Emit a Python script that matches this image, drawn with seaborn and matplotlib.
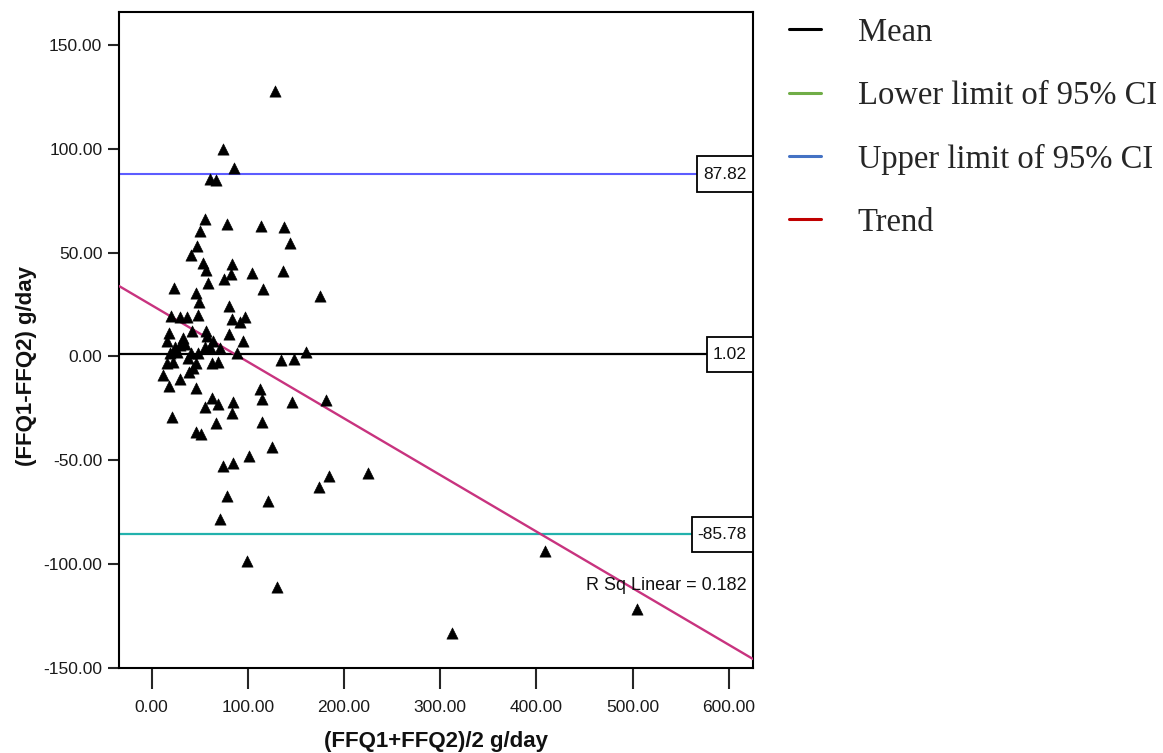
import matplotlib
matplotlib.use("Agg")
import numpy as np
import pandas as pd
import seaborn as sns
import matplotlib.pyplot as plt
from matplotlib.lines import Line2D
from matplotlib.path import Path

# ---------------- data ----------------
avg_intake = [
    128.6, 74.3, 85.4, 61.1, 66.7, 55.9, 78.8, 113.8, 137.7, 50.4,
    143.9, 47.0, 41.0, 53.2, 83.3, 56.6, 104.7, 136.6, 82.9, 75.0,
    58.4, 23.4, 115.8, 174.8, 46.5, 49.7, 80.2, 19.9, 29.9, 36.9,
    48.0, 83.6, 96.8, 92.3, 17.9, 42.4, 56.3, 80.5, 16.1, 32.4,
    58.0, 64.2, 94.8, 24.1, 29.6, 34.8, 55.3, 60.8, 71.2, 19.2,
    26.2, 41.4, 48.0, 88.5, 160.5, 15.8, 22.6, 38.2, 45.9, 62.5,
    69.4, 134.5, 148.1, 12.3, 29.6, 39.0, 43.4, 18.2, 45.9, 112.4,
    115.1, 62.5, 69.4, 55.9, 84.4, 146.3, 181.3, 83.3, 21.6, 67.3,
    115.1, 45.9, 51.7, 125.2, 101.6, 74.6, 84.7, 184.1, 174.0, 224.9,
    78.4, 121.4, 70.9, 99.2, 130.4, 408.8, 504.4, 312.2,
]
diff_intake = [
    127.9, 100.1, 90.6, 85.3, 85.0, 66.1, 63.6, 63.0, 62.2, 60.4,
    54.6, 53.2, 48.9, 45.1, 44.5, 41.6, 40.3, 41.3, 39.7, 37.3,
    35.5, 33.0, 32.3, 29.2, 30.4, 26.1, 24.1, 19.3, 18.8, 19.0,
    19.9, 18.0, 18.8, 16.4, 11.4, 12.4, 12.4, 10.6, 7.3, 8.7,
    9.7, 7.3, 7.4, 4.7, 5.5, 6.0, 4.7, 4.7, 4.2, 1.5,
    2.3, 1.5, 1.5, 1.5, 1.9, -3.0, -2.6, -0.9, -3.3, -3.3,
    -2.6, -1.7, -1.2, -9.0, -11.0, -7.4, -5.7, -14.3, -15.1, -15.9,
    -20.4, -20.0, -23.1, -24.5, -22.0, -22.0, -20.9, -27.3, -29.1, -32.1,
    -31.6, -36.3, -37.4, -43.6, -48.0, -52.7, -51.4, -57.6, -62.9, -56.0,
    -67.1, -69.5, -78.3, -98.6, -111.0, -93.8, -121.7, -133.3,
]
MEAN_DIFF = 1.02
UPPER_LOA = 87.82
LOWER_LOA = -85.78
R_SQ = 0.182

x_ticks = [0, 100, 200, 300, 400, 500, 600]
y_ticks = [-150, -100, -50, 0, 50, 100, 150]
legend_labels = ["Mean", "Lower limit of 95% CI", "Upper limit of 95% CI", "Trend"]
legend_colors = ["#000000", "#70ad47", "#4472c4", "#c00000"]

x_label = "(FFQ1+FFQ2)/2 g/day"
y_label = "(FFQ1-FFQ2) g/day"

# ---------------- styling ----------------
sns.set_theme(style="white")
plt.rcParams["font.family"] = ["Liberation Sans", "DejaVu Sans"]

fig = plt.figure(figsize=(11.63, 7.53), dpi=100)
ax = fig.add_axes([0.1023, 0.1133, 0.5452, 0.8704])
ax.set_xlim(-33.8, 625)
ax.set_ylim(-150, 165.75)

df = pd.DataFrame({"avg": avg_intake, "diff": diff_intake})

# reference lines
ax.axhline(UPPER_LOA, color="#5c5cff", lw=1.5, zorder=2)
ax.axhline(MEAN_DIFF, color="black", lw=1.6, zorder=2)
ax.axhline(LOWER_LOA, color="#22b2ad", lw=1.6, zorder=2)

# trend (linear fit through the points)
sns.regplot(data=df, x="avg", y="diff", ax=ax, ci=None, truncate=False,
            scatter=False, line_kws=dict(color="#c8337f", lw=1.7, zorder=3))

# points
sns.scatterplot(data=df, x="avg", y="diff", ax=ax, marker="^", color="black",
                s=66, edgecolor="black", linewidth=0.4, zorder=4, legend=False)

ax.set_xlim(-33.8, 625)
ax.set_ylim(-150, 165.75)


def tall_box(x0, y0, width, height, mutation_size):
    padx = 0.35 * mutation_size
    pady = 0.58 * mutation_size
    x0 -= padx
    y0 -= pady
    w = width + 2 * padx
    h = height + 2 * pady
    return Path([(x0, y0), (x0 + w, y0), (x0 + w, y0 + h), (x0, y0 + h), (x0, y0)],
                closed=True)


# value boxes at right
for val in [UPPER_LOA, MEAN_DIFF, LOWER_LOA]:
    ax.annotate(f"{val:.2f}", xy=(1.0, val), xycoords=("axes fraction", "data"),
                xytext=(-4.4, 0), textcoords="offset points", ha="right", va="center",
                fontsize=12.5, color="#111111", zorder=6,
                bbox=dict(boxstyle=tall_box, fc="white", ec="black", lw=1.3))

ax.text(0.9905, 0.126, f"R Sq Linear = {R_SQ:.3f}", transform=ax.transAxes,
        ha="right", va="center", fontsize=13, color="#111111")

# axes decoration
ax.set_xticks(x_ticks)
ax.set_xticklabels([f"{v:.2f}" for v in x_ticks])
ax.set_yticks(y_ticks)
ax.set_yticklabels([f"{v:.2f}" for v in y_ticks])
ax.tick_params(axis="x", bottom=True, direction="out", length=15, width=1.5,
               labelsize=12.5, labelcolor="#1a1a1a", pad=8)
ax.tick_params(axis="y", left=True, direction="out", length=8, width=1.5,
               labelsize=12.5, labelcolor="#1a1a1a", pad=4)
for sp in ax.spines.values():
    sp.set_color("black")
    sp.set_linewidth(1.5)

ax.set_xlabel(x_label, fontsize=16, fontweight="bold", color="#111111")
ax.set_ylabel(y_label, fontsize=16, fontweight="bold", color="#111111")
ax.xaxis.set_label_coords(0.5, -0.097)
ax.yaxis.set_label_coords(-0.129, 0.46)

# legend
handles = [Line2D([0], [0], color=c, lw=2.2) for c in legend_colors]
fig.legend(handles, legend_labels, loc="upper left", bbox_to_anchor=(0.678, 0.977),
           frameon=False, prop={"family": "Liberation Serif", "size": 23.5},
           handlelength=1.0, handletextpad=1.12, labelspacing=1.0,
           borderpad=0, borderaxespad=0)

fig.savefig("out.png", dpi=100)
